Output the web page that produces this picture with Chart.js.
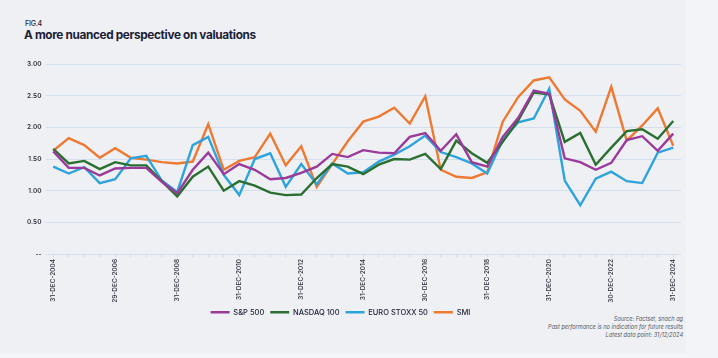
<!DOCTYPE html>
<html>
<head>
<meta charset="utf-8">
<script src="https://cdn.jsdelivr.net/npm/chart.js@4.4.1/dist/chart.umd.min.js"></script>
<style>
  html, body { margin: 0; padding: 0; background: #f3f4f7; }
  #wrap { position: relative; width: 718px; height: 358px; overflow: hidden; }
  #card { position: absolute; left: 0; top: 0; width: 686px; height: 353px; background: #eef0f4; }
  #fig { position: absolute; left: 25px; top: 19px; font: 500 7px "Inter", sans-serif; color: #1b2036; letter-spacing: -0.2px; }
  #title { position: absolute; left: 24px; top: 28px; font: 700 11.8px "Inter", sans-serif; color: #1b2036; letter-spacing: -0.35px; white-space: nowrap; }
  #notes { position: absolute; right: 35px; top: 315px; font: italic 400 5.6px/8px "Inter", sans-serif; color: #555a66; text-align: right; white-space: nowrap; }
  canvas { position: absolute; left: 0; top: 0; }
</style>
</head>
<body>
<div id="wrap">
  <div id="card"></div>
  <div id="fig">FIG.4</div>
  <div id="title">A more nuanced perspective on valuations</div>
  <div id="notes">Source: Factset, snach ag<br>Past performance is no indication for future results<br>Latest data point: 31/12/2024</div>
  <canvas id="c" width="718" height="358"></canvas>
</div>
<script>
const categories = [
  "31-DEC-2004","30-JUN-2005","30-DEC-2005","30-JUN-2006","29-DEC-2006","29-JUN-2007","31-DEC-2007","30-JUN-2008",
  "31-DEC-2008","30-JUN-2009","31-DEC-2009","30-JUN-2010","31-DEC-2010","30-JUN-2011","30-DEC-2011","29-JUN-2012",
  "31-DEC-2012","28-JUN-2013","31-DEC-2013","30-JUN-2014","31-DEC-2014","30-JUN-2015","31-DEC-2015","30-JUN-2016",
  "30-DEC-2016","30-JUN-2017","29-DEC-2017","29-JUN-2018","31-DEC-2018","28-JUN-2019","31-DEC-2019","30-JUN-2020",
  "31-DEC-2020","30-JUN-2021","31-DEC-2021","30-JUN-2022","30-DEC-2022","30-JUN-2023","29-DEC-2023","28-JUN-2024",
  "31-DEC-2024"
];
const sp500 = [1.62,1.36,1.36,1.24,1.35,1.36,1.36,1.14,0.96,1.33,1.60,1.26,1.42,1.33,1.18,1.20,1.28,1.38,1.58,1.53,
  1.64,1.60,1.59,1.85,1.91,1.63,1.89,1.45,1.38,1.85,2.15,2.58,2.53,1.51,1.45,1.33,1.44,1.80,1.86,1.63,1.90];
const nasdaq100 = [1.66,1.43,1.47,1.34,1.45,1.40,1.40,1.15,0.91,1.22,1.38,1.00,1.15,1.08,0.97,0.93,0.94,1.20,1.42,1.38,
  1.26,1.41,1.50,1.49,1.58,1.34,1.79,1.59,1.44,1.77,2.11,2.55,2.52,1.77,1.91,1.41,1.68,1.94,1.97,1.82,2.10];
const euroStoxx50 = [1.38,1.27,1.37,1.12,1.18,1.51,1.55,1.16,0.98,1.72,1.85,1.25,0.93,1.50,1.59,1.06,1.42,1.10,1.43,1.27,
  1.29,1.46,1.57,1.70,1.87,1.61,1.53,1.43,1.27,1.80,2.08,2.14,2.61,1.16,0.77,1.19,1.30,1.15,1.12,1.60,1.68];
const smi = [1.63,1.83,1.72,1.52,1.67,1.52,1.49,1.45,1.43,1.46,2.05,1.33,1.47,1.53,1.90,1.40,1.70,1.06,1.42,1.78,
  2.09,2.17,2.31,2.06,2.49,1.33,1.22,1.20,1.29,2.09,2.48,2.74,2.79,2.44,2.26,1.93,2.64,1.79,2.03,2.30,1.71];
const yTicks = [0, 0.5, 1, 1.5, 2, 2.5, 3];
const seriesNames = ["S&P 500", "NASDAQ 100", "EURO STOXX 50", "SMI"];
const seriesColors = ["#9a3a9a", "#2b6f30", "#2ea3dc", "#ee7a32"];
const seriesData = [sp500, nasdaq100, euroStoxx50, smi];

const datasets = seriesNames.map((n, i) => ({
  label: n,
  data: seriesData[i],
  borderColor: seriesColors[i],
  backgroundColor: seriesColors[i],
  borderWidth: 2.4,
  pointRadius: 0,
  pointHoverRadius: 0,
  tension: 0,
  fill: false,
  pointStyle: 'line'
}));

new Chart(document.getElementById('c'), {
  type: 'line',
  data: { labels: categories, datasets: datasets },
  options: {
    responsive: false,
    animation: false,
    layout: { padding: { top: 64, left: 0, right: 37, bottom: 32 } },
    plugins: {
      tooltip: { enabled: false },
      legend: {
        position: 'bottom',
        align: 'center',
        labels: {
          usePointStyle: true,
          pointStyle: 'line',
          pointStyleWidth: 19,
          boxHeight: 7,
          padding: 6,
          color: '#1b2036',
          font: { family: 'Inter', size: 7.5, weight: '500' }
        }
      }
    },
    scales: {
      x: {
        offset: true,
        afterFit: (s) => { s.height = 48.5; },
        border: { display: false },
        grid: { display: true, drawOnChartArea: false, drawTicks: true, tickLength: 3, color: '#d2d9e3' },
        ticks: {
          autoSkip: false,
          maxRotation: 90,
          minRotation: 90,
          padding: 2,
          color: '#2b2f3a',
          font: { family: 'Inter', size: 6.5, weight: '500' },
          callback: function(v, i) { return i % 4 === 0 ? categories[i] : ''; }
        }
      },
      y: {
        min: 0,
        max: 3,
        afterFit: (s) => { s.width = 45.5; },
        afterBuildTicks: (s) => { s.ticks = yTicks.map(v => ({ value: v })); },
        border: { display: false },
        grid: { color: '#d3dfee', lineWidth: 1, drawTicks: false },
        ticks: {
          padding: 4,
          color: '#2b2f3a',
          font: { family: 'Inter', size: 6.5, weight: '600' },
          callback: (v) => v === 0 ? '--' : Number(v).toFixed(2)
        }
      }
    }
  }
});
</script>
</body>
</html>
